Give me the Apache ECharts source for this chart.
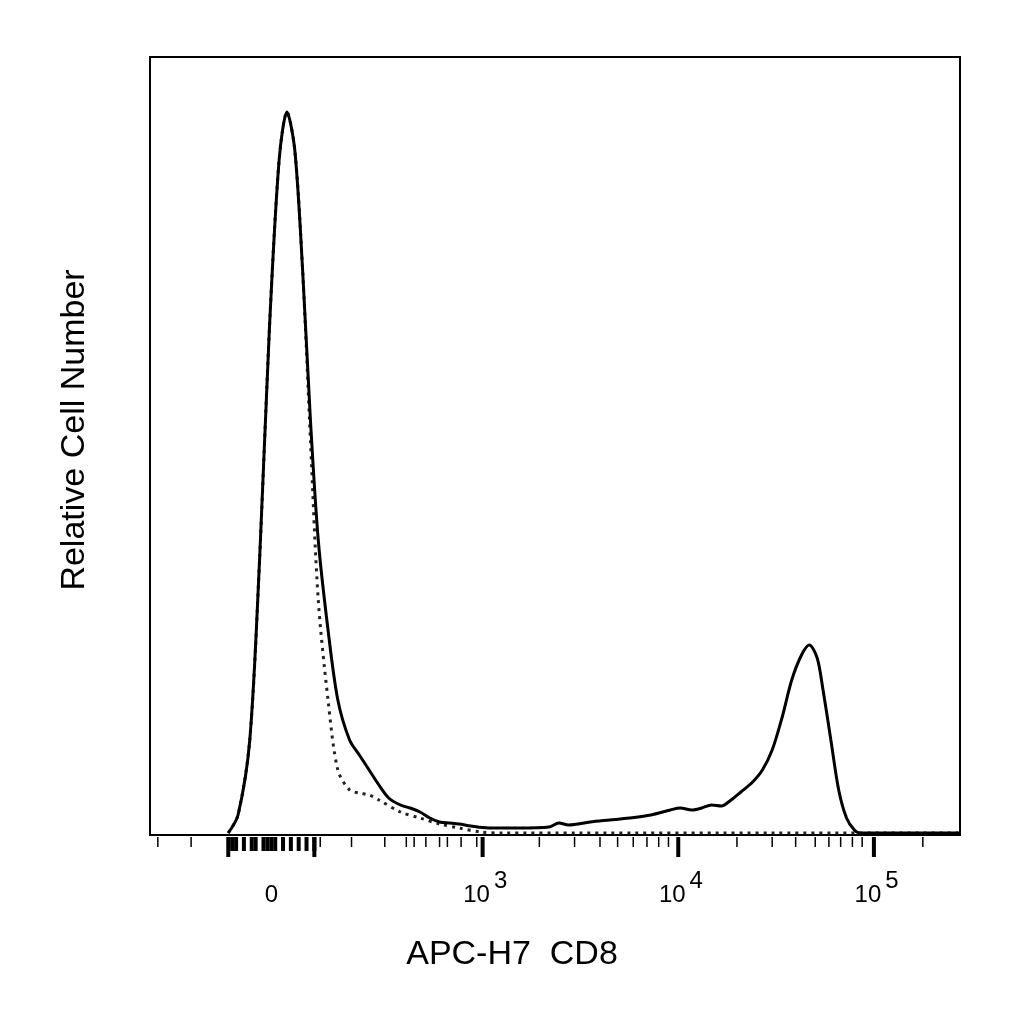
<!DOCTYPE html><html><head><meta charset="utf-8"><script src="https://cdn.jsdelivr.net/npm/echarts@6/dist/echarts.min.js"></script></head><body style="margin:0"><div id="c" style="width:1024px;height:1024px"></div><script>
// x in decade units (10^3 -> 3), y in relative count
const solidX=[1.70,1.75,1.81,1.86,1.91,1.96,2.00,2.04,2.08,2.12,2.16,2.21,2.26,2.32,2.37,2.42,2.47,2.52,2.58,2.63,2.68,2.73,2.78,2.83,2.88,2.94,3.03,3.18,3.34,3.39,3.44,3.55,3.65,3.75,3.86,3.96,4.01,4.07,4.12,4.17,4.22,4.27,4.32,4.38,4.43,4.48,4.53,4.58,4.63,4.67,4.71,4.74,4.78,4.82,4.86,4.90,4.93,4.97,5.02,5.44];
const solidY=[2,20,95,275,505,675,723,685,565,415,295,205,135,95,80,65,50,37,30,27,23,17,13,12,11,9,7,7,8,12,10,13,15,17,20,25,27,25,27,30,29,35,43,53,65,85,117,155,180,190,177,145,95,45,17,5,2,2,2,2];
const dotX=[1.70,1.75,1.81,1.86,1.91,1.96,2.00,2.04,2.08,2.12,2.16,2.21,2.26,2.32,2.37,2.42,2.47,2.58,2.68,2.78,2.88,2.99,3.10,3.50,4.50,5.44];
const dotY=[2,20,95,275,505,675,723,685,565,395,235,135,65,45,42,40,35,23,17,11,7,3,2,2,2,2];
const minorTicks=[1.34,1.51,2.17,2.33,2.50,2.61,2.65,2.71,2.78,2.82,2.89,2.97,3.00,3.29,3.47,3.60,3.69,3.77,3.84,3.90,3.95,4.30,4.48,4.60,4.70,4.77,4.83,4.89,4.94,5.25];
const clusterTicks=[1.72,1.74,1.78,1.82,1.84,1.88,1.90,1.92,1.94,1.98,2.02,2.06,2.10,2.14];
const majorTicks=[1.70,2.14,3.00,4.00,5.00];
const labelPos=[1.92,3.00,4.00,5.00];
const labelBase=['0','10','10','10'];
const labelExp=['','3','4','5'];
function pts(x,y){return x.map((v,i)=>[v,y[i]]);}
const ticks=[].concat(minorTicks.map(v=>[v,10,1.5]),clusterTicks.map(v=>[v,14,4]),majorTicks.map(v=>[v,20,4]));
const ch=echarts.init(document.getElementById('c'));
ch.setOption({animation:false,
grid:{left:150,right:64,top:57,bottom:189,show:true,borderColor:'#000',borderWidth:2},
xAxis:{type:'value',min:1.30,max:5.44,axisLine:{show:false},axisTick:{show:false},axisLabel:{show:false},splitLine:{show:false}},
yAxis:{type:'value',min:0,max:778,axisLine:{show:false},axisTick:{show:false},axisLabel:{show:false},splitLine:{show:false}},
graphic:[{type:'text',left:'center',top:938,style:{text:'APC-H7  CD8',font:'34px Liberation Sans, Arial',fill:'#000'},x:58},
{type:'text',x:58,y:430,rotation:Math.PI/2,style:{text:'Relative Cell Number',font:'34px Liberation Sans, Arial',fill:'#000',align:'center',verticalAlign:'top'}}],
series:[
{type:'line',data:pts(dotX,dotY),showSymbol:false,smooth:0.3,lineStyle:{color:'#222',width:3,type:[3,5]},z:2},
{type:'line',data:pts(solidX,solidY),showSymbol:false,smooth:0.3,lineStyle:{color:'#000',width:3},z:3},
{type:'custom',data:ticks,clip:false,renderItem:(p,api)=>{const c=api.coord([api.value(0),0]);const b=api.coord([api.value(0),0])[1]+2;return {type:'line',shape:{x1:c[0],y1:b,x2:c[0],y2:b+api.value(1)},style:{stroke:'#000',lineWidth:api.value(2)}};}},
{type:'custom',data:labelPos.map((v,i)=>[v,i]),clip:false,renderItem:(p,api)=>{const i=api.value(1);const c=api.coord([api.value(0),0]);return {type:'group',children:[
{type:'text',x:c[0]-(labelExp[i]?6:0),y:c[1]+72,style:{text:labelBase[i],font:'24px Liberation Sans, Arial',fill:'#000',align:'center',verticalAlign:'bottom'}},
{type:'text',x:c[0]+18,y:c[1]+58,style:{text:labelExp[i],font:'24px Liberation Sans, Arial',fill:'#000',align:'center',verticalAlign:'bottom'}}]};}}
]});
</script></body></html>
